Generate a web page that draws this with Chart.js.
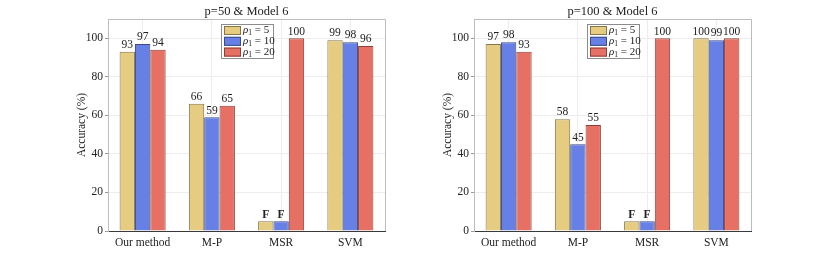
<!DOCTYPE html>
<html>
<head>
<meta charset="utf-8">
<script src="https://cdn.jsdelivr.net/npm/chart.js@4.4.0/dist/chart.umd.min.js"></script>
<style>
  body { margin: 0; background: #fff; }
  .panel { position: absolute; top: 0; width: 400px; height: 260px; }
</style>
</head>
<body>
<div class="panel" style="left:0px"><canvas id="left"></canvas></div>
<div class="panel" style="left:366px"><canvas id="right"></canvas></div>
<script>
// categories and series
const methods = ['Our method', 'M-P', 'MSR', 'SVM'];
const rhoValues = [5, 10, 20];

const p50_rho5  = [93, 66, 5, 99];
const p50_rho10 = [97, 59, 5, 98];
const p50_rho20 = [94, 65, 100, 96];

const p100_rho5  = [97, 58, 5, 100];
const p100_rho10 = [98, 45, 5, 99];
const p100_rho20 = [93, 55, 100, 100];

// bars that failed get an "F" instead of the number
const failed_rho5  = [false, false, true, false];
const failed_rho10 = [false, false, true, false];
const failed_rho20 = [false, false, false, false];

const yMax = 110;
const yStep = 20;

const fills   = ['#E5CC80', '#6680E6', '#E77064'];
const borders = ['#85754a', '#3d4a85', '#8a4038'];
const serif = '"Liberation Serif", "DejaVu Serif", serif';

// draws frame, title, bar labels and the legend box
const extras = {
    id: 'extras',
    afterDatasetsDraw(chart, args, opts) {
        const c = chart.ctx;
        const a = chart.chartArea;
        c.save();
        // top and right frame
        c.strokeStyle = '#bdbdbd';
        c.lineWidth = 1;
        c.beginPath();
        c.moveTo(a.left, a.top + 0.5);
        c.lineTo(a.right + 0.5, a.top + 0.5);
        c.lineTo(a.right + 0.5, a.bottom);
        c.stroke();

        // title
        c.fillStyle = '#222';
        c.font = '12.5px ' + serif;
        c.textAlign = 'center';
        c.textBaseline = 'middle';
        c.fillText(opts.title, (a.left + a.right) / 2, 12);

        // bar labels
        chart.data.datasets.forEach((ds, i) => {
            chart.getDatasetMeta(i).data.forEach((bar, j) => {
                const f = ds.failed[j];
                c.font = (f ? 'bold ' : '') + '11.5px ' + serif;
                c.textBaseline = 'bottom';
                c.fillText(f ? 'F' : String(ds.data[j]), bar.x, bar.y - 1);
            });
        });

        // legend
        const bx = a.left + 113, by = 24, bw = 52, bh = 34;
        c.fillStyle = '#fff';
        c.fillRect(bx, by, bw, bh);
        c.strokeStyle = '#8c8c8c';
        c.strokeRect(bx + 0.5, by + 0.5, bw, bh);
        chart.data.datasets.forEach((ds, i) => {
            const cy = by + 6.5 + i * 10.8;
            c.fillStyle = ds.backgroundColor;
            c.fillRect(bx + 3, cy - 4.5, 17, 9);
            c.strokeStyle = ds.borderColor;
            c.strokeRect(bx + 3.5, cy - 4, 16, 8);
            c.fillStyle = '#222';
            c.textAlign = 'left';
            c.textBaseline = 'middle';
            let x = bx + 22;
            c.font = 'italic 11px ' + serif;
            c.fillText('\u03c1', x, cy);
            x += c.measureText('\u03c1').width;
            c.font = '7.5px ' + serif;
            c.fillText('1', x, cy + 3);
            x += c.measureText('1').width;
            c.font = '11px ' + serif;
            c.fillText(' = ' + rhoValues[i], x, cy);
        });
        c.restore();
    }
};

function makeChart(id, title, series, failedSets) {
    return new Chart(document.getElementById(id), {
        type: 'bar',
        data: {
            labels: methods,
            datasets: series.map((s, i) => ({
                label: '\u03c11 = ' + rhoValues[i],
                data: s,
                failed: failedSets[i],
                backgroundColor: fills[i],
                borderColor: borders[i],
                borderWidth: 1,
                categoryPercentage: 0.665,
                barPercentage: 1.0
            }))
        },
        options: {
            responsive: true,
            maintainAspectRatio: false,
            animation: false,
            layout: { padding: { left: 70, right: 15, top: 19, bottom: 0 } },
            plugins: {
                legend: { display: false },
                tooltip: { enabled: false },
                extras: { title: title }
            },
            scales: {
                x: {
                    afterFit: (s) => { s.height = 29; },
                    grid: { offset: false, color: '#ededed', tickLength: 0 },
                    border: { color: '#3a3a3a', width: 1 },
                    ticks: { color: '#222', padding: 5, font: { family: serif, size: 11.5 } }
                },
                y: {
                    min: 0,
                    max: yMax,
                    afterFit: (s) => { s.width = 38; },
                    grid: { color: '#ededed', tickLength: 3, tickColor: '#999' },
                    border: { color: '#bdbdbd', width: 1 },
                    ticks: {
                        stepSize: yStep,
                        includeBounds: false,
                        color: '#222',
                        padding: 2,
                        font: { family: serif, size: 11.5 }
                    },
                    title: {
                        display: true,
                        text: 'Accuracy (%)',
                        color: '#222',
                        padding: { top: 5, bottom: 0 },
                        font: { family: serif, size: 11.5 }
                    }
                }
            }
        },
        plugins: [extras]
    });
}

const failedSets = [failed_rho5, failed_rho10, failed_rho20];
makeChart('left', 'p=50 & Model 6', [p50_rho5, p50_rho10, p50_rho20], failedSets);
makeChart('right', 'p=100 & Model 6', [p100_rho5, p100_rho10, p100_rho20], failedSets);
</script>
</body>
</html>
